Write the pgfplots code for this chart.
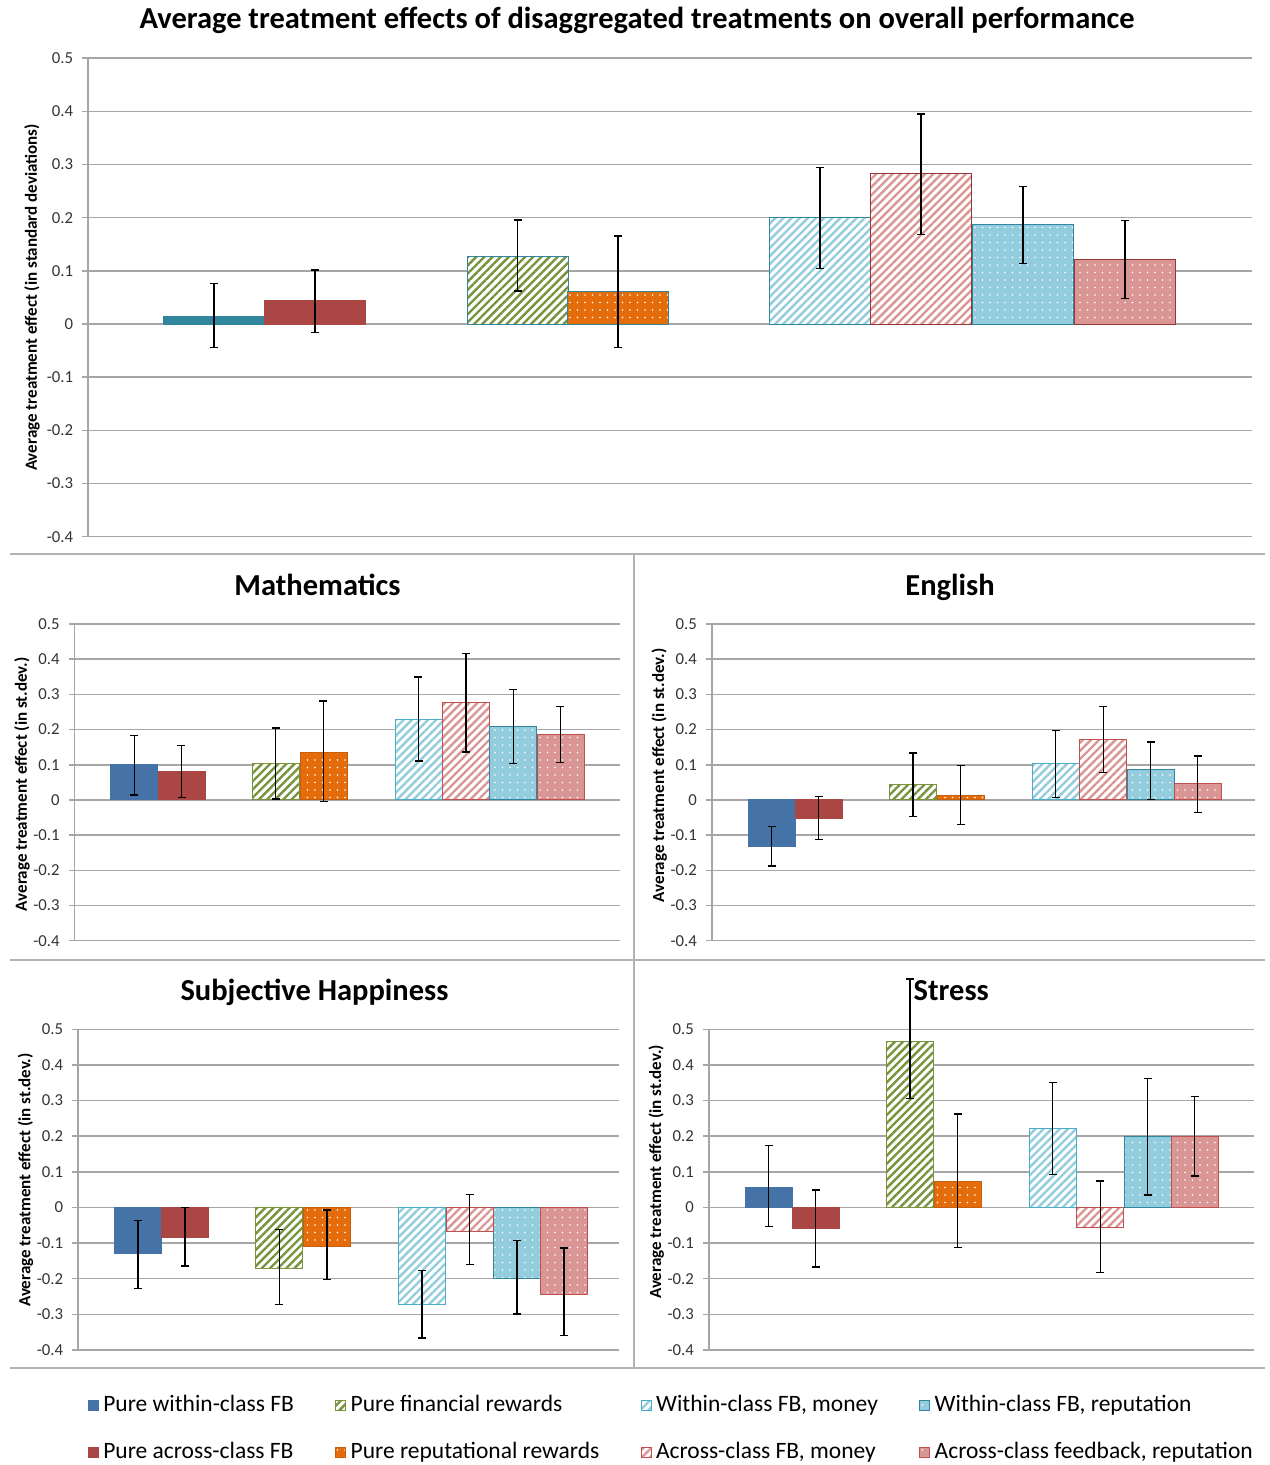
\documentclass[border=0pt]{standalone}
\usepackage{fontspec}
\setmainfont{Carlito}
\usepackage{pgfplots}
\pgfplotsset{compat=1.18}
\usetikzlibrary{patterns.meta}

\definecolor{cBlue}{HTML}{4572A7}
\definecolor{cTeal}{HTML}{31859C}
\definecolor{cRed}{HTML}{AA4643}
\definecolor{cGreen}{HTML}{77933C}
\definecolor{cOrange}{HTML}{E46C0A}
\definecolor{cOrangeD}{HTML}{C65E0A}
\definecolor{cLBlue}{HTML}{93CDDD}
\definecolor{cLBlueD}{HTML}{4BACC6}
\definecolor{cPink}{HTML}{D99694}
\definecolor{cPinkD}{HTML}{C0504D}
\definecolor{cDRed}{HTML}{953735}
\definecolor{gridc}{HTML}{A6A6A6}
\definecolor{sepc}{HTML}{B3B3B3}
\definecolor{tickc}{HTML}{333333}

\pgfplotsset{
  panel/.style={
    scale only axis, clip=false,
    ymin=-0.4, ymax=0.5,
    ytick={-0.4,-0.3,-0.2,-0.1,0,0.1,0.2,0.3,0.4,0.5},
    yticklabels={-0.4,-0.3,-0.2,-0.1,0,0.1,0.2,0.3,0.4,0.5},
    axis x line=none, axis y line*=left,
    axis line style={draw=gridc, line width=0.6pt},
    ymajorgrids, grid style={draw=gridc, line width=0.6pt},
    tick align=outside, major tick length=2.4pt,
    ytick style={draw=gridc, line width=0.6pt},
    yticklabel style={font=\fontsize{6.7}{8}\selectfont, text=tickc},
    error bars/y dir=both, error bars/y explicit,
    error bars/error bar style={black, line width=0.55pt},
    error bars/error mark options={rotate=90, mark size=1.6pt, black, line width=0.55pt},
    every axis y label/.style={rotate=90, anchor=center, font=\bfseries\fontsize{6.8}{8}\selectfont},
  },
  lines/.style={postaction={pattern={Lines[angle=45,distance=2.3pt,line width=0.95pt]}, pattern color=#1}},
  dots/.style={postaction={pattern={Dots[distance=3pt,radius=0.38pt]}, pattern color=white}},
  sA/.style={ybar, bar shift=0pt, fill=cBlue, draw=cBlue},
  sAt/.style={ybar, bar shift=0pt, fill=cTeal, draw=cTeal},
  sB/.style={ybar, bar shift=0pt, fill=cRed, draw=cRed},
  sC/.style={ybar, bar shift=0pt, fill=white, draw=cGreen, lines=cGreen},
  sD/.style={ybar, bar shift=0pt, fill=cOrange, draw=cOrangeD, dots},
  sE/.style={ybar, bar shift=0pt, fill=white, draw=cLBlueD, lines=cLBlue},
  sF/.style={ybar, bar shift=0pt, fill=white, draw=cPinkD, lines=cPink},
  sG/.style={ybar, bar shift=0pt, fill=cLBlue, draw=cTeal, dots},
  sH/.style={ybar, bar shift=0pt, fill=cPink, draw=cPinkD, dots},
}

\begin{document}
\begin{tikzpicture}
\useasboundingbox (0,0) rectangle (508pt,586pt);

% separators
\draw[sepc, line width=0.8pt] (4pt,364.4pt) -- (506pt,364.4pt);
\draw[sepc, line width=0.8pt] (4pt,202pt) -- (506pt,202pt);
\draw[sepc, line width=0.8pt] (4pt,38.8pt) -- (506pt,38.8pt);
\draw[sepc, line width=0.8pt] (253.6pt,364.4pt) -- (253.6pt,38.8pt);

% titles
\node[anchor=base, font=\bfseries\fontsize{12.2}{14}\selectfont] at (254.9pt,574.4pt) {Average treatment effects of disaggregated treatments on overall performance};
\node[anchor=base, font=\bfseries\fontsize{12.2}{14}\selectfont] at (127pt,347.6pt) {Mathematics};
\node[anchor=base, font=\bfseries\fontsize{12.2}{14}\selectfont] at (380pt,347.6pt) {English};
\node[anchor=base, font=\bfseries\fontsize{12.2}{14}\selectfont] at (125.8pt,185.6pt) {Subjective Happiness};
\node[anchor=base, font=\bfseries\fontsize{12.2}{14}\selectfont] at (380.5pt,185.6pt) {Stress};

% ---------- overall ----------
\begin{axis}[panel, at={(35.2pt,371.3pt)}, anchor=south west,
  width=465.6pt, height=191.4pt, xmin=88, xmax=1252, bar width=101,
  ylabel={Average treatment effect (in standard deviations)},
  ylabel style={at={(axis description cs:-0.0481,0.5)}}]
\addplot[sAt] coordinates {(214,0.015) += (0,0.061) -= (0,0.059)};
\addplot[sB]  coordinates {(315,0.044) += (0,0.058) -= (0,0.060)};
\addplot[sC, draw=cTeal]  coordinates {(517.5,0.128) += (0,0.068) -= (0,0.066)};
\addplot[sD, draw=cTeal]  coordinates {(618,0.062) += (0,0.104) -= (0,0.106)};
\addplot[sE, draw=cTeal]  coordinates {(820,0.200) += (0,0.095) -= (0,0.095)};
\addplot[sF, draw=cDRed]  coordinates {(921,0.284) += (0,0.111) -= (0,0.115)};
\addplot[sG]  coordinates {(1023,0.188) += (0,0.071) -= (0,0.074)};
\addplot[sH, draw=cDRed]  coordinates {(1125,0.121) += (0,0.074) -= (0,0.073)};
\end{axis}

% ---------- Mathematics ----------
\begin{axis}[panel, at={(29.8pt,209.7pt)}, anchor=south west,
  width=218pt, height=126.7pt, xmin=0, xmax=545, bar width=47,
  ylabel={Average treatment effect (in st.dev.)},
  ylabel style={at={(axis description cs:-0.0963,0.494)}}]
\addplot[sA] coordinates {(59.8,0.100) += (0,0.083) -= (0,0.086)};
\addplot[sB] coordinates {(107,0.080) += (0,0.074) -= (0,0.073)};
\addplot[sC] coordinates {(201.3,0.104) += (0,0.100) -= (0,0.101)};
\addplot[sD] coordinates {(249,0.136) += (0,0.145) -= (0,0.140)};
\addplot[sE] coordinates {(344,0.230) += (0,0.119) -= (0,0.119)};
\addplot[sF] coordinates {(391.5,0.277) += (0,0.140) -= (0,0.141)};
\addplot[sG] coordinates {(438.8,0.208) += (0,0.105) -= (0,0.104)};
\addplot[sH] coordinates {(486,0.186) += (0,0.080) -= (0,0.079)};
\end{axis}

% ---------- English ----------
\begin{axis}[panel, at={(284.7pt,209.7pt)}, anchor=south west,
  width=217.2pt, height=126.7pt, xmin=0, xmax=543, bar width=47,
  ylabel={Average treatment effect (in st.dev.)},
  ylabel style={at={(axis description cs:-0.0967,0.522)}}]
\addplot[sA] coordinates {(59.8,-0.131) += (0,0.055) -= (0,0.057)};
\addplot[sB] coordinates {(107,-0.052) += (0,0.062) -= (0,0.060)};
\addplot[sC] coordinates {(201.3,0.044) += (0,0.089) -= (0,0.091)};
\addplot[sD] coordinates {(249,0.014) += (0,0.084) -= (0,0.083)};
\addplot[sE] coordinates {(344,0.104) += (0,0.094) -= (0,0.097)};
\addplot[sF] coordinates {(391.5,0.173) += (0,0.093) -= (0,0.095)};
\addplot[sG] coordinates {(438.8,0.086) += (0,0.079) -= (0,0.084)};
\addplot[sH] coordinates {(486,0.047) += (0,0.078) -= (0,0.083)};
\end{axis}

% ---------- Subjective Happiness (holds the legend) ----------
\begin{axis}[panel, at={(31.2pt,46pt)}, anchor=south west,
  width=216.4pt, height=128.3pt, xmin=0, xmax=541, bar width=47,
  ylabel={Average treatment effect (in st.dev.)},
  ylabel style={at={(axis description cs:-0.097,0.530)}},
  legend columns=4,
  legend image code/.code={\draw[#1] (0pt,-2pt) rectangle (4pt,2pt);},
  legend style={at={(axis description cs:0.0172,-0.131)}, anchor=north west,
    draw=none, fill=none, inner sep=0pt, row sep=8.2pt,
    font=\fontsize{9.4}{10.5}\selectfont,
    nodes={inner xsep=1.8pt, inner ysep=1.2pt},
    /tikz/every even column/.append style={column sep=14.7pt}},
  legend cell align=left]
\addplot[sA] coordinates {(59.8,-0.129) += (0,0.093) -= (0,0.098)};
\addplot[sC] coordinates {(201.3,-0.170) += (0,0.109) -= (0,0.103)};
\addplot[sE] coordinates {(344,-0.273) += (0,0.096) -= (0,0.093)};
\addplot[sG] coordinates {(438.8,-0.199) += (0,0.107) -= (0,0.100)};
\addplot[sB] coordinates {(107,-0.083) += (0,0.083) -= (0,0.081)};
\addplot[sD] coordinates {(249,-0.110) += (0,0.103) -= (0,0.092)};
\addplot[sF] coordinates {(391.5,-0.067) += (0,0.103) -= (0,0.093)};
\addplot[sH] coordinates {(486,-0.243) += (0,0.129) -= (0,0.116)};
\legend{Pure within-class FB, Pure financial rewards, {Within-class FB, money}, {Within-class FB, reputation},
        Pure across-class FB, Pure reputational rewards, {Across-class FB, money}, {Across-class feedback, reputation}}
\end{axis}

% ---------- Stress ----------
\begin{axis}[panel, at={(283.5pt,46pt)}, anchor=south west,
  width=218pt, height=128.3pt, xmin=0, xmax=545, bar width=47,
  ylabel={Average treatment effect (in st.dev.)},
  ylabel style={at={(axis description cs:-0.0963,0.555)}}]
\addplot[sA] coordinates {(59.8,0.057) += (0,0.117) -= (0,0.110)};
\addplot[sB] coordinates {(107,-0.058) += (0,0.107) -= (0,0.109)};
\addplot[sC] coordinates {(201.3,0.467) += (0,0.174) -= (0,0.162)};
\addplot[sD] coordinates {(249,0.072) += (0,0.190) -= (0,0.185)};
\addplot[sE] coordinates {(344,0.221) += (0,0.129) -= (0,0.129)};
\addplot[sF] coordinates {(391.5,-0.056) += (0,0.130) -= (0,0.126)};
\addplot[sG] coordinates {(438.8,0.199) += (0,0.162) -= (0,0.164)};
\addplot[sH] coordinates {(486,0.199) += (0,0.113) -= (0,0.111)};
\end{axis}
\end{tikzpicture}
\end{document}
